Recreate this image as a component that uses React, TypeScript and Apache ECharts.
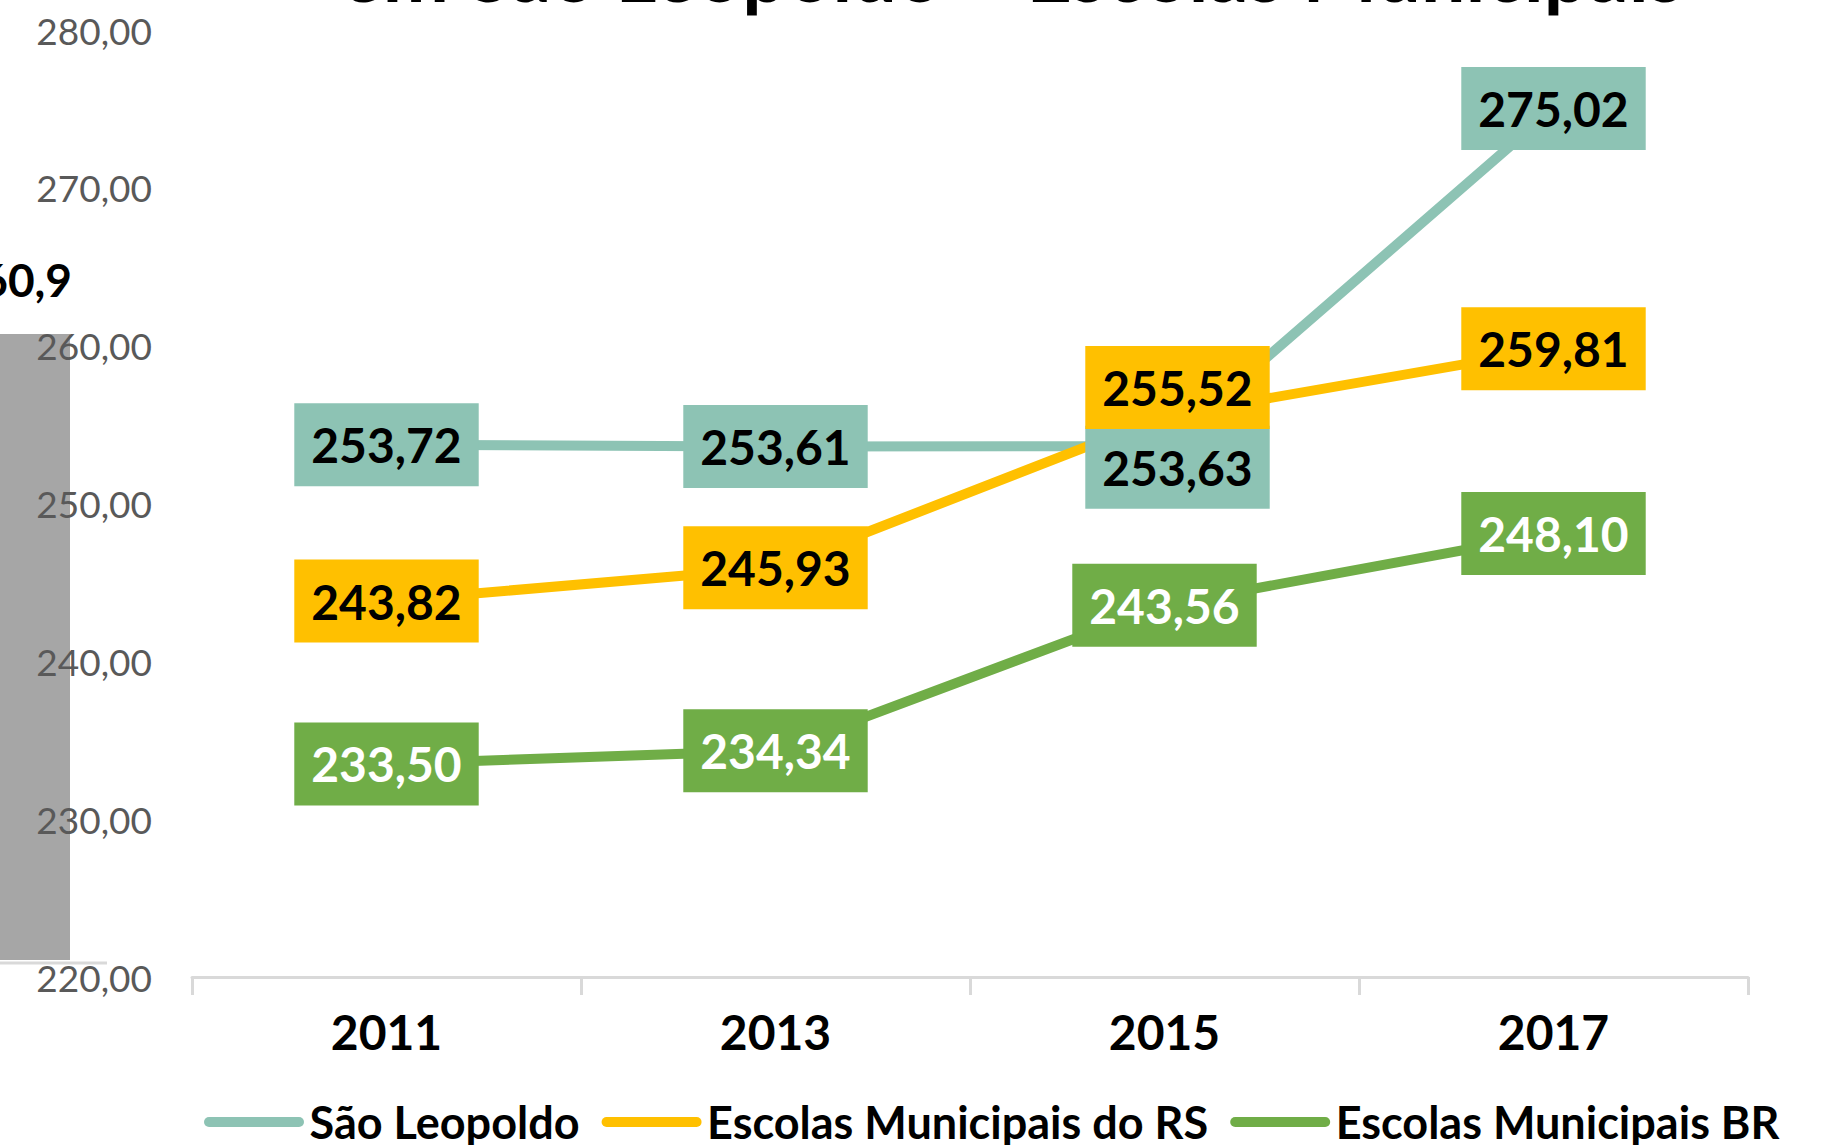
import React, { useEffect, useRef } from "react";
import * as echarts from "echarts";

const years = ["2011", "2013", "2015", "2017"];
const saoLeopoldo = [253.72, 253.61, 253.63, 275.02];
const escolasRS = [243.82, 245.93, 255.52, 259.81];
const escolasBR = [233.5, 234.34, 243.56, 248.1];
const seriesNames = ["São Leopoldo", "Escolas Municipais do RS", "Escolas Municipais BR"];
const yMin = 220;
const yMax = 280;
const yStep = 10;
const titleText = "em São Leopoldo – Escolas Municipais";
const sideLabel = "260,9";

const FONT = "Lato, 'Open Sans', sans-serif";
const fmt = (v: number) => v.toFixed(2).replace(".", ",");

export default function App() {
  const ref = useRef<HTMLDivElement>(null);
  useEffect(() => {
    if (!ref.current) return;
    const chart = echarts.init(ref.current, undefined, { renderer: "svg" });
    const colors = ["#8DC3B4", "#FFC000", "#70AD47"];
    const textColors = ["#000000", "#000000", "#FFFFFF"];
    const datasets = [saoLeopoldo, escolasRS, escolasBR];
    const offsets: Record<string, [number, number]> = {
      "0-2": [13, 21],
      "1-2": [13, -29],
    };
    const series = datasets.map((arr, si) => ({
      name: seriesNames[si],
      type: "line",
      symbol: "circle",
      symbolSize: 1,
      itemStyle: { color: colors[si] },
      lineStyle: { width: 10, color: colors[si], cap: "round" },
      z: 2,
      data: arr.map((v, i) => {
        const off = offsets[`${si}-${i}`];
        return off ? { value: v, label: { offset: off } } : v;
      }),
      label: {
        show: true,
        position: "inside",
        formatter: (p: any) => fmt(p.value),
        backgroundColor: colors[si],
        color: textColors[si],
        fontFamily: FONT,
        fontWeight: "bold",
        fontSize: 48,
        lineHeight: 50,
        padding: [17, 17, 16, 17],
      },
    }));

    chart.setOption({
      animation: false,
      backgroundColor: "#ffffff",
      grid: { left: 192, right: 81, top: 30, bottom: 168, containLabel: false },
      xAxis: {
        type: "category",
        data: years,
        boundaryGap: true,
        axisLine: { lineStyle: { color: "#D9D9D9", width: 3 } },
        axisTick: { show: true, length: 18, lineStyle: { color: "#D9D9D9", width: 3 } },
        axisLabel: {
          margin: 30,
          color: "#000000",
          fontFamily: FONT,
          fontWeight: "bold",
          fontSize: 48,
        },
        splitLine: { show: false },
      },
      yAxis: {
        type: "value",
        min: yMin,
        max: yMax,
        interval: yStep,
        axisLine: { show: false },
        axisTick: { show: false },
        splitLine: { show: false },
        axisLabel: {
          margin: 40,
          color: "#595959",
          fontFamily: FONT,
          fontSize: 37,
          formatter: (v: number) => fmt(v),
        },
      },
      legend: {
        data: seriesNames,
        left: 204,
        top: 1099,
        padding: 0,
        itemWidth: 101,
        itemHeight: 10,
        itemGap: 22,
        icon: "path://M5,0 H95 A5,5 0 0 1 95,10 H5 A5,5 0 0 1 5,0 Z",
        textStyle: {
          color: "#000000",
          fontFamily: FONT,
          fontWeight: "bold",
          fontSize: 45,
          lineHeight: 46,
        },
      },
      graphic: [
        {
          type: "rect",
          z: -10,
          shape: { x: 0, y: 334, width: 70, height: 626 },
          style: { fill: "#A6A6A6" },
        },
        {
          type: "line",
          z: -10,
          shape: { x1: 0, y1: 963, x2: 107, y2: 963 },
          style: { stroke: "#D9D9D9", lineWidth: 3 },
        },
        {
          type: "text",
          x: 72,
          y: 279,
          style: {
            text: sideLabel,
            fill: "#000000",
            font: `bold 46px ${FONT}`,
            align: "right",
            verticalAlign: "middle",
          },
        },
        {
          type: "text",
          x: 1012,
          y: -29,
          style: {
            text: titleText,
            fill: "#000000",
            font: `bold 79px ${FONT}`,
            align: "center",
            verticalAlign: "middle",
          },
        },
      ],
      series,
    });
    return () => chart.dispose();
  }, []);
  return (
    <div
      ref={ref}
      style={{ position: "absolute", left: 0, top: 0, width: 1829, height: 1145 }}
    />
  );
}
